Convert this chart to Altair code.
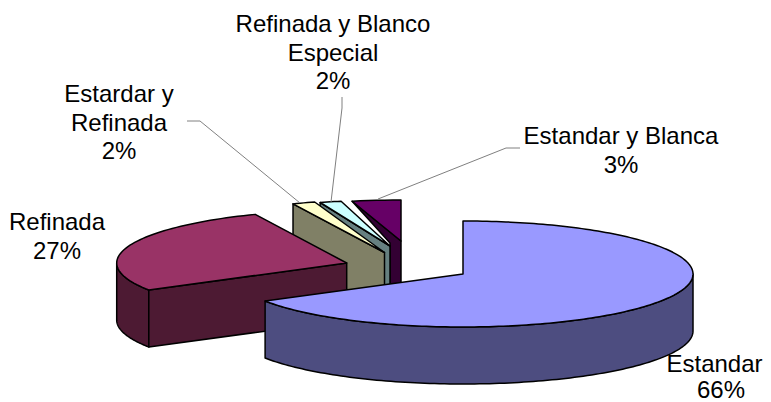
import math
import altair as alt
import pandas as pd

# chart values
categories = ["Estandar", "Refinada", "Estardar y Refinada", "Refinada y Blanco Especial", "Estandar y Blanca"]
shares = [66.49, 27.0, 1.6, 1.5, 3.41]
top_colors = ["#9999ff", "#993366", "#ffffcc", "#ccffff", "#660066"]
wall_colors = ["#4d4d80", "#4d1a33", "#808066", "#668080", "#330033"]
label_lines = [
    ["Refinada y Blanco", "Especial", "2%"],
    ["Estandar y Blanca", "3%"],
    ["Estardar y", "Refinada", "2%"],
    ["Refinada", "27%"],
    ["Estandar"],
    ["66%"],
]

# layout of the exploded pie (pixels)
RX, RY, DEPTH = 230, 53, 57
apex = {0: (463, 274), 1: (346.7, 263), 2: (384.5, 252.5), 3: (390, 253), 4: (401, 253)}
top_lift = {0: 0, 1: 0, 2: 0, 3: 7, 4: 12}
label_anchor = [(333, 25), (621, 137), (119, 95), (57, 223), (714.5, 365), (721, 391)]
LINE_H = 28.7
leaders = [
    [(187, 121), (200, 121), (300, 203)],
    [(342, 97), (342, 108), (331, 202)],
    [(520, 148), (506, 148), (378, 199)],
]

# slice angles from the shares (clockwise from 12 o'clock)
angles, acc = [], 0.0
for s in shares:
    angles.append((acc * 3.6, (acc + s) * 3.6))
    acc += s


def outer(i, deg, dy=0):
    a = math.radians(deg)
    ax, ay = apex[i]
    return (ax + RX * math.sin(a), ay - RY * math.cos(a) + dy)


def arc(i, d0, d1, dy=0, n=60):
    return [outer(i, d0 + (d1 - d0) * k / n, dy) for k in range(n + 1)]


X = alt.X("x:Q", scale=alt.Scale(domain=[8, 763]), axis=None)
Y = alt.Y("y:Q", scale=alt.Scale(domain=[402, 8]), axis=None)


def polygon(pts, fill, sw=1.5):
    df = pd.DataFrame({"x": [p[0] for p in pts], "y": [p[1] for p in pts], "o": range(len(pts))})
    return alt.Chart(df).mark_line(
        interpolate="linear-closed", fill=fill, stroke="#000000", strokeWidth=sw, strokeJoin="round"
    ).encode(x=X, y=Y, order="o:Q")


layers = []


def wedge_wall(i):
    d0 = angles[i][0]
    o = outer(i, d0)
    ax, ay = apex[i]
    ay -= top_lift[i]
    return [o, (ax, ay), (ax, ay + DEPTH), (o[0], o[1] + DEPTH)]


def wedge_top(i):
    ax, ay = apex[i]
    d0, d1 = angles[i]
    return [(ax, ay - top_lift[i])] + arc(i, d0, d1, n=6)


# small back slices, back to front
o4 = outer(4, angles[4][0])
ax4, ay4 = apex[4]
bx3, by3 = apex[3]
layers.append(polygon(
    [o4, (ax4, ay4 - top_lift[4]), (ax4, ay4 + DEPTH), (bx3, by3 + DEPTH), (bx3, by3 - 10)],
    wall_colors[4],
))
layers.append(polygon(wedge_top(4), top_colors[4]))
layers.append(polygon(wedge_wall(3), wall_colors[3]))
layers.append(polygon(wedge_top(3), top_colors[3]))
layers.append(polygon(wedge_wall(2), wall_colors[2]))
layers.append(polygon(wedge_top(2), top_colors[2]))

# Refinada
d0, d1 = angles[1]
layers.append(polygon(arc(1, d0, 270) + arc(1, 270, d0, DEPTH), wall_colors[1]))
layers.append(polygon(wedge_wall(1), wall_colors[1]))
layers.append(polygon([apex[1]] + arc(1, d0, d1), top_colors[1]))

# Estandar
d0, d1 = angles[0]
layers.append(polygon(arc(0, 90, d1, n=120) + arc(0, d1, 90, DEPTH, n=120), wall_colors[0]))
layers.append(polygon([apex[0]] + arc(0, d0, d1, n=200), top_colors[0]))

# leader lines
for line in leaders:
    df = pd.DataFrame({"x": [p[0] for p in line], "y": [p[1] for p in line], "o": range(len(line))})
    layers.append(alt.Chart(df).mark_line(color="#808080", strokeWidth=1).encode(x=X, y=Y, order="o:Q"))

# labels
rows = []
for lines, (cx, cy) in zip(label_lines, label_anchor):
    for k, t in enumerate(lines):
        rows.append({"x": cx, "y": cy + k * LINE_H, "t": t})
layers.append(
    alt.Chart(pd.DataFrame(rows))
    .mark_text(font="Liberation Sans", fontSize=24, color="#000000", align="center", baseline="middle")
    .encode(x=X, y=Y, text="t:N")
)

chart = alt.layer(*layers).properties(width=755, height=394, padding=0).configure_view(stroke=None)
chart = chart.properties(autosize=alt.AutoSizeParams(type="none"))
chart.save("out.html", embed_options={"renderer": "svg", "actions": False})
